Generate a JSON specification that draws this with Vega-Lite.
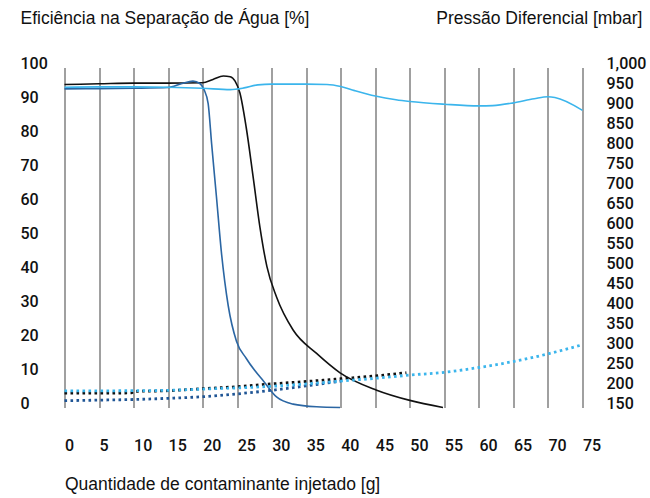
{
  "$schema": "https://vega.github.io/schema/vega-lite/v6.json",
  "width": 518,
  "height": 340,
  "autosize": {"type": "none"},
  "padding": {"left": 64.5, "top": 67.5, "right": 67.5, "bottom": 90.5},
  "background": "white",
  "config": {
    "view": {"stroke": null},
    "font": "Liberation Sans",
    "axis": {"labelFont": "Roboto", "labelFontWeight": 500, "titleFont": "Liberation Sans", "labelColor": "#111", "titleColor": "#111", "titleFontWeight": "normal", "domain": false, "ticks": false, "labelOverlap": false, "gridOpacity": 1}
  },
  "datasets": {
    "gy": [
      {"ef": 0}, {"ef": 10}, {"ef": 20}, {"ef": 30}, {"ef": 40}, {"ef": 50},
      {"ef": 60}, {"ef": 70}, {"ef": 80}, {"ef": 90}, {"ef": 100}
    ],
    "eff": [
      {"serie": "Ef. preto", "g": 0, "ef": 95.0},
      {"serie": "Ef. preto", "g": 5, "ef": 95.2},
      {"serie": "Ef. preto", "g": 10, "ef": 95.4},
      {"serie": "Ef. preto", "g": 15, "ef": 95.4},
      {"serie": "Ef. preto", "g": 20, "ef": 95.5},
      {"serie": "Ef. preto", "g": 21.5, "ef": 96.5},
      {"serie": "Ef. preto", "g": 23, "ef": 97.5},
      {"serie": "Ef. preto", "g": 24, "ef": 97.3},
      {"serie": "Ef. preto", "g": 24.7, "ef": 96.0},
      {"serie": "Ef. preto", "g": 25.4, "ef": 92.5},
      {"serie": "Ef. preto", "g": 26.3, "ef": 82.5},
      {"serie": "Ef. preto", "g": 27.3, "ef": 68.0},
      {"serie": "Ef. preto", "g": 28.3, "ef": 53.0},
      {"serie": "Ef. preto", "g": 29.3, "ef": 41.5},
      {"serie": "Ef. preto", "g": 30.7, "ef": 32.5},
      {"serie": "Ef. preto", "g": 33.1, "ef": 22.8},
      {"serie": "Ef. preto", "g": 36.5, "ef": 15.9},
      {"serie": "Ef. preto", "g": 39.9, "ef": 10.2},
      {"serie": "Ef. preto", "g": 45.2, "ef": 5.1},
      {"serie": "Ef. preto", "g": 50, "ef": 2.1},
      {"serie": "Ef. preto", "g": 54.8, "ef": 0},
      {"serie": "Ef. azul escuro", "g": 0, "ef": 93.7},
      {"serie": "Ef. azul escuro", "g": 5, "ef": 93.8},
      {"serie": "Ef. azul escuro", "g": 10, "ef": 93.9},
      {"serie": "Ef. azul escuro", "g": 15, "ef": 94.1},
      {"serie": "Ef. azul escuro", "g": 17, "ef": 95.3},
      {"serie": "Ef. azul escuro", "g": 18.6, "ef": 96.0},
      {"serie": "Ef. azul escuro", "g": 19.6, "ef": 95.3},
      {"serie": "Ef. azul escuro", "g": 20.2, "ef": 93.5},
      {"serie": "Ef. azul escuro", "g": 20.8, "ef": 89.4},
      {"serie": "Ef. azul escuro", "g": 21.3, "ef": 77.6},
      {"serie": "Ef. azul escuro", "g": 22, "ef": 62.0},
      {"serie": "Ef. azul escuro", "g": 22.7, "ef": 46.0},
      {"serie": "Ef. azul escuro", "g": 23.7, "ef": 30.0},
      {"serie": "Ef. azul escuro", "g": 24.9, "ef": 19.5},
      {"serie": "Ef. azul escuro", "g": 26.3, "ef": 14.5},
      {"serie": "Ef. azul escuro", "g": 27.5, "ef": 11.0},
      {"serie": "Ef. azul escuro", "g": 28.8, "ef": 7.8},
      {"serie": "Ef. azul escuro", "g": 30.7, "ef": 3.1},
      {"serie": "Ef. azul escuro", "g": 33.1, "ef": 1.0},
      {"serie": "Ef. azul escuro", "g": 36.5, "ef": 0.2},
      {"serie": "Ef. azul escuro", "g": 39.9, "ef": 0},
      {"serie": "Ef. azul claro", "g": 0, "ef": 94.2},
      {"serie": "Ef. azul claro", "g": 5, "ef": 94.3},
      {"serie": "Ef. azul claro", "g": 10, "ef": 94.3},
      {"serie": "Ef. azul claro", "g": 15, "ef": 94.2},
      {"serie": "Ef. azul claro", "g": 20, "ef": 93.9},
      {"serie": "Ef. azul claro", "g": 24, "ef": 93.5},
      {"serie": "Ef. azul claro", "g": 26, "ef": 94.0},
      {"serie": "Ef. azul claro", "g": 28, "ef": 94.9},
      {"serie": "Ef. azul claro", "g": 30, "ef": 95.1},
      {"serie": "Ef. azul claro", "g": 35, "ef": 95.1},
      {"serie": "Ef. azul claro", "g": 38, "ef": 95.0},
      {"serie": "Ef. azul claro", "g": 40, "ef": 94.4},
      {"serie": "Ef. azul claro", "g": 42, "ef": 93.2},
      {"serie": "Ef. azul claro", "g": 45, "ef": 91.6},
      {"serie": "Ef. azul claro", "g": 48, "ef": 90.5},
      {"serie": "Ef. azul claro", "g": 50, "ef": 90.0},
      {"serie": "Ef. azul claro", "g": 55, "ef": 89.2},
      {"serie": "Ef. azul claro", "g": 60, "ef": 88.7},
      {"serie": "Ef. azul claro", "g": 62, "ef": 88.8},
      {"serie": "Ef. azul claro", "g": 65, "ef": 89.6},
      {"serie": "Ef. azul claro", "g": 68, "ef": 90.8},
      {"serie": "Ef. azul claro", "g": 70, "ef": 91.4},
      {"serie": "Ef. azul claro", "g": 71, "ef": 91.2},
      {"serie": "Ef. azul claro", "g": 75, "ef": 87.4}
    ],
    "pres": [
      {"serie": "DP preto", "g": 0, "dp": 186},
      {"serie": "DP preto", "g": 5, "dp": 186},
      {"serie": "DP preto", "g": 9.7, "dp": 186.5},
      {"serie": "DP preto", "g": 10, "dp": 190},
      {"serie": "DP preto", "g": 15, "dp": 192},
      {"serie": "DP preto", "g": 20, "dp": 197},
      {"serie": "DP preto", "g": 25, "dp": 202},
      {"serie": "DP preto", "g": 30, "dp": 209},
      {"serie": "DP preto", "g": 35, "dp": 215},
      {"serie": "DP preto", "g": 40, "dp": 222},
      {"serie": "DP preto", "g": 45, "dp": 229},
      {"serie": "DP preto", "g": 49.5, "dp": 237},
      {"serie": "DP azul escuro", "g": 0, "dp": 167},
      {"serie": "DP azul escuro", "g": 5, "dp": 168.5},
      {"serie": "DP azul escuro", "g": 10, "dp": 170},
      {"serie": "DP azul escuro", "g": 15, "dp": 173},
      {"serie": "DP azul escuro", "g": 20, "dp": 177},
      {"serie": "DP azul escuro", "g": 25, "dp": 184},
      {"serie": "DP azul escuro", "g": 30, "dp": 193},
      {"serie": "DP azul escuro", "g": 35, "dp": 204},
      {"serie": "DP azul escuro", "g": 40, "dp": 216},
      {"serie": "DP azul claro", "g": 0, "dp": 191.5},
      {"serie": "DP azul claro", "g": 10, "dp": 192},
      {"serie": "DP azul claro", "g": 15, "dp": 193},
      {"serie": "DP azul claro", "g": 20, "dp": 196},
      {"serie": "DP azul claro", "g": 25, "dp": 199},
      {"serie": "DP azul claro", "g": 30, "dp": 203},
      {"serie": "DP azul claro", "g": 35, "dp": 209},
      {"serie": "DP azul claro", "g": 40, "dp": 216},
      {"serie": "DP azul claro", "g": 45, "dp": 223},
      {"serie": "DP azul claro", "g": 50, "dp": 231},
      {"serie": "DP azul claro", "g": 55, "dp": 238},
      {"serie": "DP azul claro", "g": 60, "dp": 250},
      {"serie": "DP azul claro", "g": 65, "dp": 265},
      {"serie": "DP azul claro", "g": 70, "dp": 284},
      {"serie": "DP azul claro", "g": 75, "dp": 307}
    ]
  },
  "encoding": {
    "x": {
      "field": "g", "type": "quantitative",
      "scale": {"domain": [0, 75], "nice": false, "zero": false},
      "axis": {
        "values": [0, 5, 10, 15, 20, 25, 30, 35, 40, 45, 50, 55, 60, 65, 70, 75],
        "grid": true, "gridColor": "#a0a0a0", "gridWidth": 2,
        "labelAlign": "left", "labelBaseline": "middle", "labelPadding": 38, "labelOffset": 0,
        "labelFontSize": 16, "labelFlush": false, "labelOverlap": false,
        "title": "Quantidade de contaminante injetado [g]",
        "titleFontSize": 17.5, "titleAlign": "left", "titleAnchor": "start", "titleBaseline": "middle",
        "titleX": 0, "titleY": 77
      }
    },
    "color": {
      "field": "serie", "type": "nominal",
      "scale": {
        "domain": ["Ef. preto", "Ef. azul escuro", "Ef. azul claro", "DP preto", "DP azul escuro", "DP azul claro"],
        "range": ["#111111", "#2b66a3", "#3bb5ec", "#111111", "#1f5595", "#3bb5ec"]
      },
      "legend": null
    }
  },
  "layer": [
    {
      "data": {"name": "gy"},
      "mark": {"type": "rule", "strokeWidth": 1.3},
      "encoding": {
        "x": {"datum": 0, "type": "quantitative"},
        "x2": {"datum": 75},
        "y": {
          "field": "ef", "type": "quantitative",
          "scale": {"domain": [0, 100], "nice": false},
          "axis": null
        },
        "color": {"value": "#a0a0a0"}
      }
    },
    {
      "data": {"name": "eff"},
      "mark": {"type": "line", "interpolate": "monotone", "strokeWidth": 1.6},
      "encoding": {
        "y": {
          "field": "ef", "type": "quantitative",
          "scale": {"domain": [0, 100], "nice": false},
          "axis": {
            "orient": "left",
            "values": [0, 10, 20, 30, 40, 50, 60, 70, 80, 90, 100],
            "grid": false,
            "labelAlign": "left", "labelBaseline": "middle", "labelPadding": 44.5, "labelOffset": -4,
            "labelFontSize": 16, "labelFlush": false, "labelOverlap": false,
            "title": "Eficiência na Separação de Água [%]",
            "titleFontSize": 17.5, "titleAngle": 0, "titleAlign": "left", "titleBaseline": "middle",
            "titleX": -44.5, "titleY": -49.5
          }
        }
      }
    },
    {
      "data": {"name": "pres"},
      "mark": {"type": "line", "interpolate": "monotone", "strokeWidth": 2.8, "strokeDash": [2.6, 3.4], "strokeCap": "butt"},
      "encoding": {
        "y": {
          "field": "dp", "type": "quantitative",
          "scale": {"domain": [150, 1000], "nice": false, "zero": false},
          "axis": {
            "orient": "right",
            "values": [150, 200, 250, 300, 350, 400, 450, 500, 550, 600, 650, 700, 750, 800, 850, 900, 950, 1000],
            "format": ",d",
            "grid": false,
            "labelAlign": "left", "labelBaseline": "middle", "labelPadding": 23.5, "labelOffset": -4,
            "labelFontSize": 16, "labelFlush": false, "labelOverlap": false,
            "title": "Pressão Diferencial [mbar]",
            "titleFontSize": 17.5, "titleAngle": 0, "titleAlign": "right", "titleBaseline": "middle",
            "titleX": 59.5, "titleY": -49.5
          }
        }
      }
    }
  ],
  "resolve": {"scale": {"y": "independent"}}
}
